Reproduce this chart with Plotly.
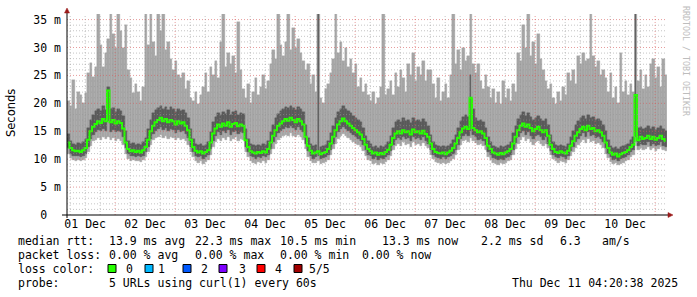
import pandas as pd
import plotly.graph_objects as go

# ---------------- data (hourly samples) ----------------
START = "2025-12-01 04:45"
END = "2025-12-11 04:45"

median = [
    13.0, 12.0, 11.6, 11.4, 11.5, 11.3, 11.6, 12.0, 13.5, 15.0, 15.8, 16.3, 16.8, 16.5, 17.2, 16.8, 22.3, 16.6, 17.0, 16.4, 16.8, 16.5, 15.5, 13.0,
    11.8, 11.4, 11.6, 11.3, 11.5, 11.2, 11.6, 12.2, 13.5, 15.0, 16.0, 16.6, 17.0, 17.4, 16.8, 17.2, 16.6, 17.0, 16.8, 16.2, 16.8, 16.4, 16.6, 16.0,
    15.2, 13.5, 12.2, 11.5, 11.2, 11.4, 11.0, 11.3, 11.6, 13.0, 14.6, 15.5, 16.2, 15.8, 16.4, 16.0, 16.6, 15.8, 16.3, 16.5, 15.9, 16.2, 16.0, 13.4,
    12.2, 11.4, 11.2, 11.0, 11.3, 11.1, 11.4, 11.2, 11.8, 13.0, 14.2, 15.2, 16.0, 16.4, 16.8, 17.2, 16.9, 17.4, 17.0, 16.6, 17.2, 16.8, 16.2, 14.0,
    12.4, 11.5, 11.0, 11.2, 11.4, 10.9, 11.1, 11.3, 11.8, 12.8, 14.0, 15.2, 16.2, 16.8, 17.3, 16.8, 16.4, 16.0, 15.6, 15.2, 14.8, 14.4, 13.6, 12.6,
    11.8, 11.4, 11.0, 11.2, 10.8, 11.1, 10.9, 11.3, 11.7, 12.6, 13.8, 14.6, 15.0, 14.6, 15.2, 14.8, 15.0, 14.4, 15.3, 14.8, 15.0, 14.6, 15.1, 14.5,
    14.0, 12.8, 11.8, 11.3, 11.1, 11.0, 11.2, 10.9, 11.2, 11.5, 12.0, 12.8, 13.8, 14.8, 15.5, 15.8, 15.4, 21.0, 15.6, 15.2, 14.8, 15.0, 14.6, 13.8,
    12.4, 11.8, 11.2, 11.0, 10.8, 11.1, 10.9, 11.2, 11.4, 11.8, 12.8, 14.0, 15.2, 16.0, 16.4, 15.8, 16.2, 15.6, 15.0, 15.4, 15.8, 15.2, 14.8, 15.2,
    14.2, 12.6, 11.8, 11.3, 11.1, 11.4, 11.2, 11.0, 11.5, 12.4, 13.2, 14.2, 14.8, 15.4, 15.8, 15.2, 16.0, 15.4, 15.6, 15.0, 15.2, 14.8, 14.2, 13.0,
    12.0, 11.2, 10.8, 11.0, 10.5, 10.9, 11.1, 11.3, 11.6, 12.2, 12.6, 21.5, 13.4, 14.0, 13.6, 13.8, 14.2, 13.6, 14.0, 13.5, 13.8, 14.2, 13.6, 13.3,
]

dark_hi = [
    14.5, 13.2, 12.8, 12.6, 12.9, 12.7, 13.0, 13.6, 15.5, 17.0, 18.0, 18.6, 19.0, 18.6, 19.5, 18.8, 23.0, 18.9, 19.2, 18.5, 19.0, 18.6, 17.8, 15.0,
    13.2, 12.8, 12.9, 12.6, 12.8, 12.5, 13.0, 13.8, 15.4, 17.0, 18.2, 18.8, 19.2, 19.6, 19.0, 19.4, 18.8, 19.3, 19.0, 18.4, 19.0, 18.6, 18.8, 18.2,
    17.4, 15.4, 13.6, 12.8, 12.5, 12.7, 12.3, 12.6, 13.0, 14.8, 16.6, 17.6, 18.3, 17.9, 18.5, 18.1, 18.8, 17.9, 18.4, 18.6, 18.0, 18.3, 18.1, 15.4,
    13.6, 12.7, 12.5, 12.3, 12.6, 12.4, 12.7, 12.5, 13.2, 14.8, 16.2, 17.3, 18.1, 18.6, 19.0, 19.4, 19.1, 19.6, 19.2, 18.8, 19.4, 19.0, 18.4, 16.2,
    13.8, 12.8, 12.3, 12.5, 37.0, 12.2, 12.4, 12.6, 13.2, 14.6, 16.0, 17.3, 18.4, 19.0, 19.5, 19.0, 18.6, 18.2, 17.8, 17.4, 17.0, 16.6, 15.6, 14.2,
    13.2, 12.7, 12.2, 12.4, 12.0, 12.3, 12.1, 12.5, 13.0, 14.2, 15.6, 16.6, 17.0, 16.6, 17.3, 16.8, 17.1, 16.5, 17.4, 16.9, 17.1, 16.7, 17.2, 16.6,
    16.0, 14.4, 13.0, 12.5, 12.3, 12.2, 12.4, 12.1, 12.4, 12.7, 13.4, 14.4, 15.6, 16.8, 17.6, 18.0, 17.5, 25.0, 19.0, 17.3, 16.9, 17.1, 16.7, 15.6,
    14.0, 13.0, 12.4, 12.2, 12.0, 12.3, 12.1, 12.4, 12.6, 13.0, 14.6, 16.0, 17.2, 18.0, 18.4, 17.8, 18.2, 17.6, 17.0, 17.4, 17.8, 17.2, 16.8, 17.2,
    16.2, 14.4, 13.0, 12.5, 12.3, 12.6, 12.4, 12.2, 12.7, 14.0, 15.0, 16.2, 16.8, 17.4, 17.8, 17.2, 18.0, 17.4, 17.6, 17.0, 17.2, 16.8, 16.2, 15.0,
    13.4, 12.4, 12.0, 12.2, 11.8, 12.1, 12.3, 12.5, 12.8, 13.4, 14.0, 37.0, 15.6, 15.8, 15.4, 15.6, 16.0, 15.4, 15.8, 15.3, 15.6, 16.0, 15.4, 15.1,
]

dark_lo = [
    12.0, 11.0, 10.6, 10.5, 10.6, 10.4, 10.6, 11.0, 12.2, 13.6, 14.4, 14.8, 15.2, 15.0, 15.4, 15.0, 16.8, 14.9, 15.3, 14.8, 15.0, 14.8, 14.0, 12.0,
    10.9, 10.5, 10.6, 10.4, 10.5, 10.3, 10.6, 11.2, 12.2, 13.6, 14.5, 15.0, 15.4, 15.7, 15.2, 15.5, 15.0, 15.4, 15.2, 14.7, 15.2, 14.8, 15.0, 14.5,
    13.8, 12.2, 11.2, 10.6, 10.3, 10.5, 10.1, 10.4, 10.7, 11.8, 13.3, 14.1, 14.8, 14.4, 15.0, 14.6, 15.2, 14.4, 14.9, 15.1, 14.5, 14.8, 14.6, 12.2,
    11.2, 10.5, 10.3, 10.1, 10.4, 10.2, 10.5, 10.3, 10.8, 11.9, 13.0, 13.9, 14.6, 15.0, 15.4, 15.7, 15.5, 15.9, 15.5, 15.2, 15.7, 15.3, 14.8, 12.8,
    11.4, 10.6, 10.1, 10.3, 10.5, 10.0, 10.2, 10.4, 10.8, 11.7, 12.8, 13.9, 14.8, 15.4, 15.8, 15.4, 15.0, 14.7, 14.3, 14.0, 13.6, 13.2, 12.5, 11.6,
    10.8, 10.5, 10.1, 10.3, 9.9, 10.2, 10.0, 10.4, 10.8, 11.5, 12.6, 13.4, 13.8, 13.4, 14.0, 13.6, 13.8, 13.2, 14.0, 13.6, 13.8, 13.4, 13.9, 13.3,
    12.8, 11.6, 10.8, 10.4, 10.2, 10.1, 10.3, 10.0, 10.3, 10.6, 11.0, 11.7, 12.6, 13.6, 14.2, 14.5, 14.1, 15.0, 14.3, 13.9, 13.5, 13.7, 13.3, 12.6,
    11.3, 10.7, 10.2, 10.0, 9.8, 10.1, 9.9, 10.2, 10.4, 10.8, 11.7, 12.9, 13.9, 14.6, 15.0, 14.4, 14.8, 14.2, 13.7, 14.1, 14.4, 13.9, 13.5, 13.9,
    12.8, 11.5, 10.8, 10.4, 10.2, 10.5, 10.3, 10.1, 10.6, 11.4, 12.1, 13.0, 13.6, 14.2, 14.6, 14.0, 14.8, 14.2, 14.4, 13.8, 14.0, 13.6, 13.0, 12.0,
    11.0, 10.3, 9.9, 10.1, 9.7, 10.0, 10.2, 10.4, 10.7, 11.2, 11.6, 14.0, 12.4, 12.8, 12.5, 12.6, 13.0, 12.4, 12.8, 12.3, 12.6, 13.0, 12.4, 12.2,
]

smoke_min = [
    11.0, 10.2, 9.8, 9.7, 9.8, 9.6, 9.8, 10.2, 11.2, 12.4, 13.2, 13.4, 13.8, 13.5, 13.9, 13.6, 14.0, 13.4, 13.8, 13.3, 13.6, 13.2, 12.6, 11.0,
    10.1, 9.7, 9.8, 9.6, 9.7, 9.5, 9.8, 10.4, 11.3, 12.5, 13.4, 13.8, 14.0, 14.3, 13.8, 14.1, 13.6, 14.0, 13.8, 13.4, 13.8, 13.5, 13.6, 13.2,
    12.5, 11.2, 10.3, 9.7, 9.4, 9.6, 9.2, 9.5, 9.8, 10.8, 12.2, 13.0, 13.6, 13.2, 13.8, 13.4, 14.0, 13.2, 13.7, 13.9, 13.3, 13.6, 13.4, 11.2,
    10.3, 9.6, 9.4, 9.2, 9.5, 9.3, 9.6, 9.4, 9.9, 10.9, 11.9, 12.8, 13.4, 13.8, 14.1, 14.4, 14.2, 14.6, 14.2, 13.9, 14.4, 14.0, 13.5, 11.8,
    10.4, 9.7, 9.3, 9.4, 9.6, 9.1, 9.3, 9.5, 9.9, 10.8, 11.8, 12.8, 13.6, 14.1, 14.5, 14.1, 13.8, 13.5, 13.1, 12.8, 12.5, 12.1, 11.5, 10.6,
    9.9, 9.6, 9.2, 9.4, 9.0, 9.3, 9.1, 9.5, 9.9, 10.6, 11.6, 12.4, 12.8, 12.4, 13.0, 12.6, 12.8, 12.2, 13.0, 12.6, 12.8, 12.4, 12.9, 12.3,
    12.0, 10.8, 10.0, 9.5, 9.3, 9.2, 9.4, 9.1, 9.4, 9.7, 10.1, 10.8, 11.6, 12.6, 13.2, 13.5, 13.1, 13.8, 13.3, 12.9, 12.5, 12.7, 12.3, 11.6,
    10.4, 9.9, 9.4, 9.2, 9.0, 9.3, 9.1, 9.4, 9.6, 9.9, 10.8, 11.9, 12.8, 13.5, 13.9, 13.3, 13.7, 13.1, 12.6, 13.0, 13.3, 12.8, 12.4, 12.8,
    12.0, 10.7, 10.0, 9.6, 9.4, 9.7, 9.5, 9.3, 9.8, 10.5, 11.2, 12.0, 12.6, 13.1, 13.5, 12.9, 13.7, 13.1, 13.3, 12.7, 12.9, 12.5, 12.0, 11.0,
    10.2, 9.5, 9.1, 9.3, 9.0, 9.2, 9.4, 9.6, 9.9, 10.4, 10.8, 13.0, 11.6, 12.0, 11.7, 11.8, 12.2, 11.6, 12.0, 11.5, 11.8, 12.2, 11.6, 11.4,
]

smoke_max = [
    20.5, 19.5, 24.2, 19.0, 22.0, 21.5, 20.0, 21.8, 25.5, 27.2, 24.8, 26.5, 37.0, 30.5, 26.5, 29.0, 31.5, 37.0, 32.5, 30.0, 37.0, 33.0, 30.0, 34.0,
    26.0, 24.5, 21.8, 23.5, 22.0, 20.5, 23.0, 37.0, 30.5, 37.0, 31.0, 28.5, 37.0, 33.0, 37.0, 29.5, 31.0, 28.0, 26.0, 27.5, 25.0, 24.5, 25.5, 22.5,
    24.0, 21.0, 20.5, 22.0, 19.8, 21.5, 23.0, 25.5, 22.0, 26.5, 25.0, 27.5, 24.5, 31.0, 37.0, 26.5, 29.0, 27.0, 28.5, 25.5, 34.5, 26.0, 22.5, 21.0,
    23.5, 20.0, 22.0, 24.5, 21.5, 23.0, 25.0, 22.5, 24.0, 27.0, 29.5, 28.0, 37.0, 30.5, 28.5, 31.0, 37.0, 29.5, 33.5, 30.0, 31.5, 29.0, 27.5, 26.0,
    27.0, 23.5, 25.0, 22.0, 37.0, 21.0, 20.0, 22.5, 23.5, 25.5, 28.0, 37.0, 29.0, 31.0, 27.5, 30.0, 26.5, 28.0, 25.5, 27.0, 23.0, 24.5, 22.0, 23.5,
    21.5, 20.5, 22.0, 19.8, 21.0, 23.0, 37.0, 21.5, 22.5, 24.0, 21.5, 25.5, 23.0, 26.0, 24.5, 22.0, 27.0, 25.0, 29.0, 24.0, 26.5, 25.0, 27.5, 24.0,
    26.0, 26.0, 23.5, 21.0, 24.5, 20.5, 22.0, 23.5, 21.0, 25.0, 37.0, 27.0, 29.5, 26.0, 30.0, 27.5, 28.5, 37.0, 27.0, 25.5, 27.0, 24.0, 22.5, 25.0,
    23.0, 21.0, 22.5, 20.0, 22.0, 19.8, 24.0, 21.0, 22.5, 20.5, 23.5, 22.0, 29.0, 27.5, 34.0, 30.0, 37.0, 28.5, 31.0, 27.0, 32.5, 28.0, 26.0, 24.0,
    22.5, 23.5, 21.0, 19.8, 22.0, 20.5, 23.0, 21.5, 25.5, 24.0, 26.0, 23.5, 28.5, 27.0, 29.0, 27.5, 28.0, 37.0, 28.5, 26.5, 27.5, 25.0, 26.0, 24.5,
    22.0, 25.5, 21.0, 23.0, 20.0, 29.0, 22.0, 24.0, 21.5, 23.5, 22.0, 37.0, 24.0, 26.0, 22.5, 25.0, 23.0, 27.0, 28.0, 24.5, 26.5, 23.0, 28.0, 25.0,
]

day_labels = ["01 Dec", "02 Dec", "03 Dec", "04 Dec", "05 Dec",
              "06 Dec", "07 Dec", "08 Dec", "09 Dec", "10 Dec"]
y_tick_vals = [0, 5, 10, 15, 20, 25, 30, 35]
y_tick_text = ["0\u00a0\u00a0", "5 m", "10 m", "15 m", "20 m", "25 m", "30 m", "35 m"]

rtt_items = ["median rtt:", "13.9 ms avg", "22.3 ms max", "10.5 ms min",
             "13.3 ms now", "2.2 ms sd", "6.3", "am/s"]
loss_items = ["packet loss:", "0.00 % avg", "0.00 % max", "0.00 % min", "0.00 % now"]
loss_color_labels = ["0", "1", "2", "3", "4", "5/5"]
loss_colors = ["#26ff00", "#00b8ff", "#0059ff", "#7e00ff", "#ff0000", "#a10000"]
probe_items = ["probe:", "5 URLs using curl(1) every 60s"]
stamp = "Thu Dec 11 04:20:38 2025"

# ---------------- figure ----------------
MONO = "DejaVu Sans Mono"
FS = 11.5
L, R, T, B = 67, 30, 14, 82
W, H = 697, 297
PW, PH = W - L - R, H - T - B
HOUR_MS = 3600000

def px(x):
    return (x - L) / PW

def py(y):
    return (H - B - y) / PH

start = pd.Timestamp(START)

def centers(n):
    return [start + pd.Timedelta(hours=i + 0.5) for i in range(n)]

# tall isolated dark excursions are drawn as thin lines, like the original
dark_width = [HOUR_MS * 0.45 if (h - l) > 8 else HOUR_MS for h, l in zip(dark_hi, dark_lo)]

fig = go.Figure()
fig.add_trace(go.Bar(
    x=centers(len(smoke_max)), base=smoke_min,
    y=[a - b for a, b in zip(smoke_max, smoke_min)],
    width=HOUR_MS, marker=dict(color="#a6a6a6", line=dict(width=0.4, color="#a6a6a6")),
    hoverinfo="skip"))
fig.add_trace(go.Bar(
    x=centers(len(dark_hi)), base=dark_lo,
    y=[a - b for a, b in zip(dark_hi, dark_lo)],
    width=dark_width, marker=dict(color="#5a5a5a", line=dict(width=0.4, color="#5a5a5a")),
    hoverinfo="skip"))
fig.add_trace(go.Scatter(
    x=centers(len(median)), y=median, mode="lines",
    line=dict(color="#26ff00", width=2, shape="hvh"), hoverinfo="skip"))

shapes = []
DOT = "1px,2px"
for v in range(1, 36):
    col = "rgba(215,90,90,0.6)" if v % 5 == 0 else "rgba(150,150,150,0.55)"
    shapes.append(dict(type="line", xref="paper", yref="y", x0=0, x1=1, y0=v, y1=v,
                       line=dict(color=col, width=1, dash=DOT), layer="above"))
for ts in pd.date_range("2025-12-01 06:00", "2025-12-11 00:00", freq="6h"):
    col = "rgba(215,90,90,0.6)" if ts.hour == 0 else "rgba(150,150,150,0.55)"
    shapes.append(dict(type="line", xref="x", yref="paper", x0=ts, x1=ts, y0=0, y1=1,
                       line=dict(color=col, width=1, dash=DOT), layer="above"))
shapes.append(dict(type="line", xref="paper", yref="paper", x0=px(62), x1=px(669),
                   y0=0, y1=0, line=dict(color="black", width=1), layer="above"))
shapes.append(dict(type="line", xref="paper", yref="paper", x0=0, x1=0,
                   y0=py(218), y1=py(11), line=dict(color="black", width=1), layer="above"))
shapes.append(dict(type="path", xref="paper", yref="paper",
                   path=f"M {px(64.5)} {py(13)} L {px(69.5)} {py(13)} L {px(67)} {py(8)} Z",
                   fillcolor="#9b1b1b", line=dict(color="#9b1b1b", width=0.5), layer="above"))
shapes.append(dict(type="path", xref="paper", yref="paper",
                   path=f"M {px(668)} {py(212.5)} L {px(668)} {py(217.5)} L {px(673)} {py(215)} Z",
                   fillcolor="#9b1b1b", line=dict(color="#9b1b1b", width=0.5), layer="above"))

annotations = []

def text(x, y, s, anchor="left", size=FS, family=MONO, color="black", angle=0, yanchor="middle"):
    annotations.append(dict(x=px(x), y=py(y), xref="paper", yref="paper", text=s,
                            showarrow=False, xanchor=anchor, yanchor=yanchor, textangle=angle,
                            font=dict(family=family, size=size, color=color)))

rtt_x = [16, 107, 193, 278, 380, 479, 558, 600]
for xx, s in zip(rtt_x, rtt_items):
    text(xx, 241, s)
loss_x = [16, 107, 193, 278, 360]
for xx, s in zip(loss_x, loss_items):
    text(xx, 255, s)
text(16, 269, "loss color:")
sq_x = [108, 145, 183, 219, 257, 294]
lab_x = [124, 156, 199, 237, 273, 307]
for sx, lx, c, s in zip(sq_x, lab_x, loss_colors, loss_color_labels):
    shapes.append(dict(type="rect", xref="paper", yref="paper",
                       x0=px(sx), x1=px(sx + 8), y0=py(272.5), y1=py(264.5),
                       fillcolor=c, line=dict(color="black", width=1)))
    text(lx, 269, s)
text(16, 283, probe_items[0])
text(107, 283, probe_items[1])
text(680, 283, stamp, anchor="right")

text(11, 113, "Seconds", anchor="center", family="DejaVu Sans", size=11.5, angle=-90)
text(686, 4, "RRDTOOL / TOBI OETIKER", anchor="center", size=8.3, color="#bdbdbd",
     angle=90, yanchor="top")

fig.update_layout(
    width=W, height=H,
    margin=dict(l=L, r=R, t=T, b=B, pad=0),
    paper_bgcolor="white", plot_bgcolor="white",
    barmode="overlay", bargap=0, showlegend=False,
    font=dict(family=MONO, size=FS, color="black"),
    shapes=shapes, annotations=annotations,
    xaxis=dict(type="date", range=[START, END], tickmode="array",
               tickvals=[pd.Timestamp("2025-12-01 12:00") + pd.Timedelta(days=i) for i in range(len(day_labels))],
               ticktext=day_labels, showgrid=False, zeroline=False, showline=False,
               ticks="", tickfont=dict(family=MONO, size=FS, color="black")),
    yaxis=dict(range=[0, 36], tickmode="array", tickvals=y_tick_vals, ticktext=y_tick_text,
               showgrid=False, zeroline=False, showline=False, ticks="",
               ticklabelstandoff=5, tickfont=dict(family=MONO, size=FS, color="black")),
)

fig.write_html("out.html")
